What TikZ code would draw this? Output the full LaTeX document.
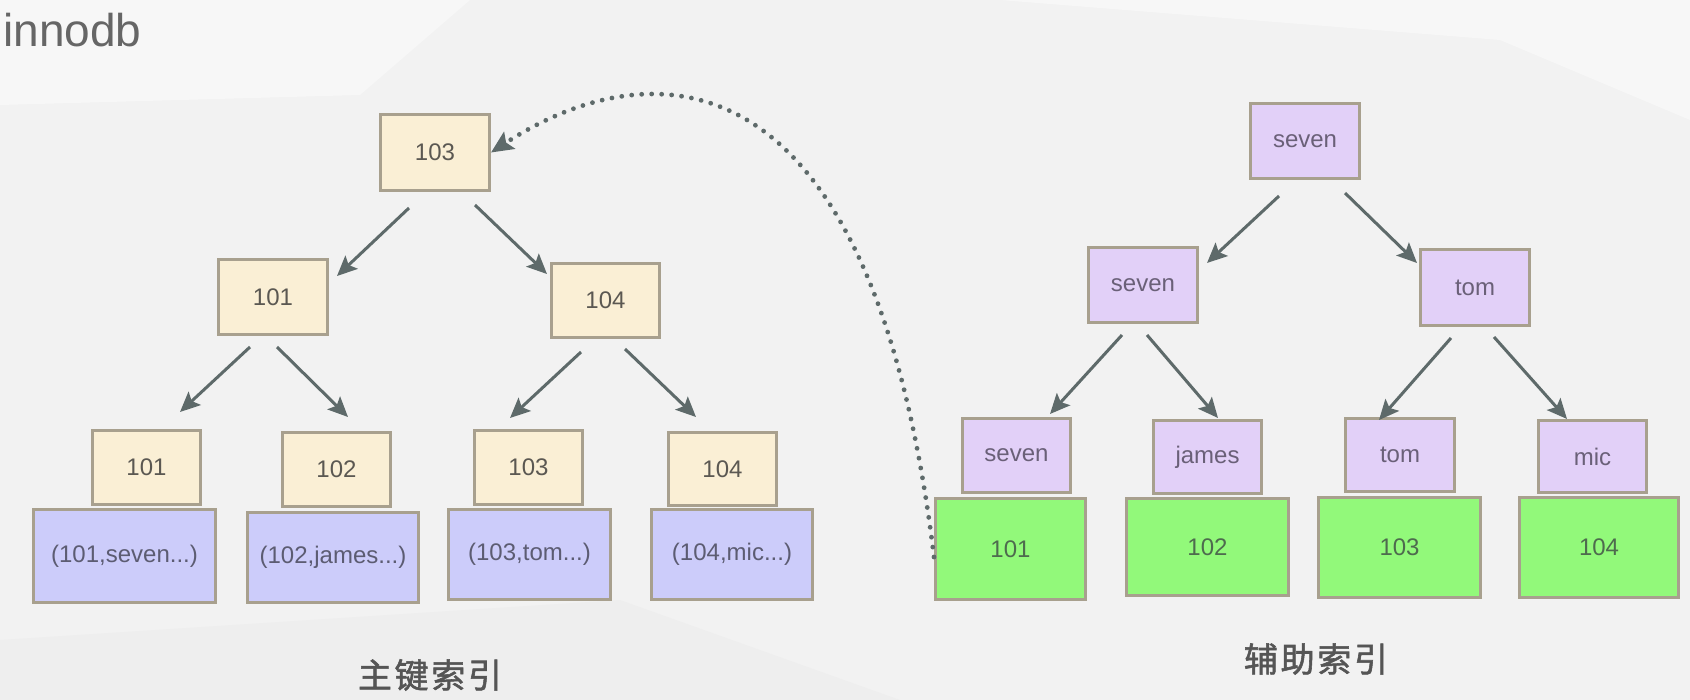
\documentclass[tikz,border=0pt]{standalone}
\usepackage{fontspec}
\setmainfont{Liberation Sans}
\newfontfamily\cjk[LetterSpace=8,FakeBold=1.6]{Noto Sans CJK SC}
\usetikzlibrary{arrows.meta}
\definecolor{bgc}{HTML}{F2F2F2}
\definecolor{bgl}{HTML}{F7F7F7}
\definecolor{bgd}{HTML}{EEEEEE}
\definecolor{bordc}{HTML}{A8A08E}
\definecolor{yel}{HTML}{FAEFD5}
\definecolor{blu}{HTML}{CCCCFA}
\definecolor{pur}{HTML}{E2D0F8}
\definecolor{grn}{HTML}{92F97A}
\definecolor{ytxt}{HTML}{5B5852}
\definecolor{btxt}{HTML}{5C5C72}
\definecolor{ptxt}{HTML}{6A6078}
\definecolor{gtxt}{HTML}{4E6B4E}
\definecolor{arrc}{HTML}{5E6A6A}
\definecolor{ttl}{HTML}{666666}
\definecolor{lbl}{HTML}{555555}
\begin{document}
\begin{tikzpicture}[x=0.5pt,y=-0.5pt,
  box/.style={draw=bordc, line width=1.5pt, inner sep=0pt, font=\fontsize{12}{14}\selectfont},
  sz/.style 2 args={minimum width={#1*0.5pt-1.5pt}, minimum height={#2*0.5pt-1.5pt}},
  ybox/.style={box, fill=yel, text=ytxt},
  bbox/.style={box, fill=blu, text=btxt},
  pbox/.style={box, fill=pur, text=ptxt},
  gbox/.style={box, fill=grn, text=gtxt},
  arr/.style={draw=arrc, line width=1.5pt, -{Stealth[length=10pt,width=9pt,inset=2pt]}},
  dotarr/.style={draw=arrc, line width=2.4pt, line cap=round, dash pattern=on 0pt off 5pt,
    -{Stealth[length=11pt,width=10pt,inset=2pt]}},
  caption/.style={font=\cjk\fontsize{17}{20}\selectfont, text=lbl}
]
\useasboundingbox (0,0) rectangle (1690,700);
% background
\fill[bgc] (0,0) rectangle (1690,700);
\fill[bgl] (0,0) -- (470,0) -- (360,95) -- (0,105) -- cycle;
\fill[bgl] (1000,0) -- (1690,0) -- (1690,120) -- (1500,40) -- cycle;
\fill[bgd] (0,640) -- (620,600) -- (900,700) -- (0,700) -- cycle;

% title
\node[anchor=base west, inner sep=0pt, text=ttl, font=\fontsize{23}{26}\selectfont] (title) at (3,47) {innodb};

% ---------- primary index ----------
\node[ybox, sz={112}{79}] (r103) at (435,152.5) {103};
\node[ybox, sz={112}{78}] (n101) at (273,297) {101};
\node[ybox, sz={111}{77}] (n104) at (605.5,300.5) {104};

\node[bbox, sz={185}{96}] (lb101) at (124.5,556) {(101,seven...)};
\node[bbox, sz={174}{93}] (lb102) at (333,557.5) {(102,james...)};
\node[bbox, sz={165}{93}] (lb103) at (529.5,554.5) {(103,tom...)};
\node[bbox, sz={164}{93}] (lb104) at (732,554.5) {(104,mic...)};

\node[ybox, sz={111}{77}] (ly101) at (146.5,467.5) {101};
\node[ybox, sz={111}{77}] (ly102) at (336.5,469.5) {102};
\node[ybox, sz={111}{77}] (ly103) at (528.5,467.5) {103};
\node[ybox, sz={111}{76}] (ly104) at (722.5,469) {104};

\draw[arr] ([shift={(-26,16)}]r103.south) -- ([shift={(64,18)}]n101.north);
\draw[arr] ([shift={(40,13)}]r103.south) -- ([shift={(-58.5,12)}]n104.north);
\draw[arr] ([shift={(-23,11)}]n101.south) -- ([shift={(33.5,-17)}]ly101.north);
\draw[arr] ([shift={(4,11)}]n101.south) -- ([shift={(11.5,-14)}]ly102.north);
\draw[arr] ([shift={(-24.5,13)}]n104.south) -- ([shift={(-18.5,-11)}]ly103.north);
\draw[arr] ([shift={(19.5,10)}]n104.south) -- ([shift={(-26.5,-14)}]ly104.north);

\node[caption] (cap1) at (430,675) {主键索引};

% ---------- secondary index ----------
\node[pbox, sz={112}{78}] (sr) at (1305,141) {seven};
\node[pbox, sz={112}{78}] (s2) at (1143,285) {seven};
\node[pbox, sz={112}{79}] (t2) at (1475,287.5) {tom};

\node[gbox, sz={153}{104}] (g101) at (1010.5,549) {101};
\node[gbox, sz={165}{100}] (g102) at (1207.5,547) {102};
\node[gbox, sz={165}{103}] (g103) at (1399.5,547.5) {103};
\node[gbox, sz={162}{103}] (g104) at (1599,547.5) {104};

\node[pbox, sz={111}{77}] (pseven) at (1016.5,455.5) {seven};
\node[pbox, sz={111}{76}] (pjames) at (1207.5,457) {james};
\node[pbox, sz={112}{76}] (ptom) at (1400,455) {tom};
\node[pbox, sz={111}{75}] (pmic) at (1592.5,456.5) {mic};

\draw[arr] ([shift={(-26,16)}]sr.south) -- ([shift={(64,17)}]s2.north);
\draw[arr] ([shift={(40,13)}]sr.south) -- ([shift={(-58,15)}]t2.north);
\draw[arr] ([shift={(-21,11)}]s2.south) -- ([shift={(33.5,-3)}]pseven.north);
\draw[arr] ([shift={(4,11)}]s2.south) -- ([shift={(10.5,-1)}]pjames.north);
\draw[arr] ([shift={(-24,11)}]t2.south) -- ([shift={(-21,3)}]ptom.north);
\draw[arr] ([shift={(19,10)}]t2.south) -- ([shift={(-25.5,0)}]pmic.north);

\node[caption] (cap2) at (1316,659) {辅助索引};

% ---------- link from secondary leaf to primary root ----------
\draw[dotarr] ([yshift=-4]g101.west) .. controls (870,30) and (640,55) .. (r103.east);
\end{tikzpicture}
\end{document}
